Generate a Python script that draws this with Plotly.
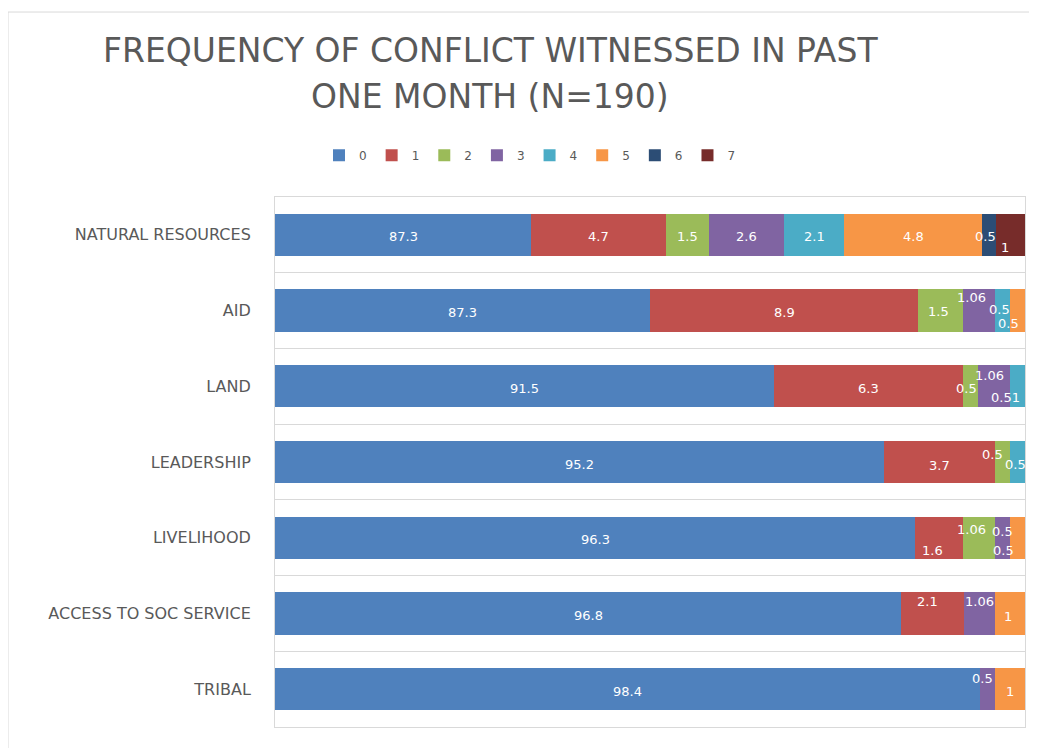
import plotly.graph_objects as go

# ---------------- data ----------------
categories = ["NATURAL RESOURCES", "AID", "LAND", "LEADERSHIP", "LIVELIHOOD",
              "ACCESS TO SOC SERVICE", "TRIBAL"]
series_names = ["0", "1", "2", "3", "4", "5", "6", "7"]
s0 = [87.3, 87.3, 91.5, 95.2, 96.3, 96.8, 98.4]
s1 = [4.7, 8.9, 6.3, 3.7, 1.6, 2.1, 0]
s2 = [1.5, 1.5, 0.5, 0.5, 1.06, 0, 0]
s3 = [2.6, 1.06, 1.06, 0, 0.5, 1.06, 0.5]
s4 = [2.1, 0.5, 0.51, 0.5, 0, 0, 0]
s5 = [4.8, 0.5, 0, 0, 0.5, 1, 1]
s6 = [0.5, 0, 0, 0, 0, 0, 0]
s7 = [1, 0, 0, 0, 0, 0, 0]
series_values = [s0, s1, s2, s3, s4, s5, s6, s7]

title_line1 = "FREQUENCY OF CONFLICT WITNESSED IN PAST"
title_line2 = "ONE MONTH (N=190)"

# ---------------- style ----------------
colors = ["#4F81BD", "#C0504D", "#9BBB59", "#8064A2",
          "#4BACC6", "#F79646", "#2C4D75", "#772C2A"]
text_gray = "#595959"
grid_gray = "#D9D9D9"
x_range = [75, 100]

# label nudges (x px, y px) for crowded labels: key = (series index, category index)
label_nudge = {
    (6, 0): (-4, -2), (7, 0): (-6, -13),
    (2, 1): (-2, -1), (3, 1): (-7, 13), (4, 1): (-3, 1), (5, 1): (-9, -13),
    (2, 2): (-4, -2), (3, 2): (-4, 11), (4, 2): (-12, -11),
    (1, 3): (0, -3), (2, 3): (-10, 8), (4, 3): (-2, -2),
    (1, 4): (-7, -13), (2, 4): (-8, 8), (3, 4): (0, 6), (5, 4): (-14, -13),
    (1, 5): (-5, 12), (3, 5): (0, 12), (5, 5): (-2, -3),
    (3, 6): (-5, 11), (5, 6): (0, -2),
}

fig = go.Figure()
for name, vals, col in zip(series_names, series_values, colors):
    fig.add_trace(go.Bar(
        y=categories, x=vals, name=name, orientation="h",
        marker=dict(color=col, line=dict(width=0)),
        width=0.56, textposition="none",
    ))

# data labels, positioned at the centre of the visible part of each segment
annotations = []
totals = [sum(s[i] for s in series_values) for i in range(len(categories))]
for ci, cat in enumerate(categories):
    cum = 0.0
    for si, s in enumerate(series_values):
        v = s[ci]
        if v <= 0:
            continue
        pct = v / totals[ci] * 100
        start, end = cum, cum + pct
        cum = end
        vis0, vis1 = max(start, x_range[0]), min(end, x_range[1])
        xc = (vis0 + vis1) / 2
        dx, dy = label_nudge.get((si, ci), (0, -2))
        annotations.append(dict(
            x=xc, y=cat, xref="x", yref="y", text=f"{v:g}", showarrow=False,
            xshift=dx, yshift=dy, xanchor="center", yanchor="middle",
            font=dict(family="DejaVu Sans", size=13, color="white"),
        ))

# title (two lines)
annotations.append(dict(x=0.2867, y=1.2755, xref="paper", yref="paper",
                        xanchor="center", yanchor="middle",
                        text=title_line1, showarrow=False,
                        font=dict(family="DejaVu Sans", size=33, color=text_gray)))
annotations.append(dict(x=0.2867, y=1.1887, xref="paper", yref="paper",
                        xanchor="center", yanchor="middle",
                        text=title_line2, showarrow=False,
                        font=dict(family="DejaVu Sans", size=33, color=text_gray)))

# the page adds an 8px body margin, so the figure is 8px smaller than the window
fig.update_layout(
    width=1029, height=740, autosize=False,
    margin=dict(l=267, r=12, t=189, b=21),
    paper_bgcolor="white", plot_bgcolor="white",
    barmode="stack", barnorm="percent",
    showlegend=True,
    legend=dict(orientation="h", x=0.34, xanchor="center", y=1.079, yanchor="middle",
                font=dict(family="DejaVu Sans", size=12, color=text_gray),
                itemwidth=30, traceorder="normal", bgcolor="rgba(0,0,0,0)"),
    annotations=annotations,
    shapes=[dict(type="rect", xref="paper", yref="paper",
                 x0=-0.356, x1=1.06, y0=-0.1, y1=1.349,
                 line=dict(color=grid_gray, width=1), layer="below")],
    xaxis=dict(range=x_range, showticklabels=False, showgrid=False, zeroline=False,
               showline=True, mirror=True, linecolor=grid_gray, linewidth=1, ticks=""),
    yaxis=dict(autorange="reversed", type="category", tickson="boundaries",
               showgrid=True, gridcolor=grid_gray, gridwidth=1,
               showline=True, mirror=True, linecolor=grid_gray, linewidth=1,
               ticks="", ticklabelstandoff=20,
               tickfont=dict(family="DejaVu Sans", size=16, color=text_gray)),
)

fig.write_html("out.html")
